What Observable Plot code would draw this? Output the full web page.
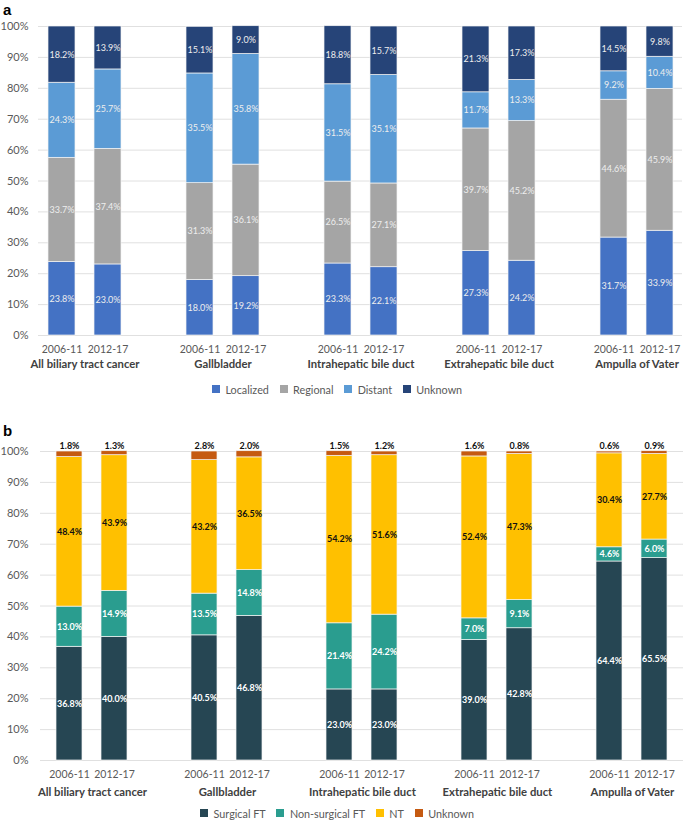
<!DOCTYPE html>
<html><head><meta charset="utf-8">
<script src="https://cdn.jsdelivr.net/npm/d3@7"></script>
<script src="https://cdn.jsdelivr.net/npm/@observablehq/plot@0.6"></script>
<style>
body{margin:0;background:#fff;font-family:Lato,"Open Sans",sans-serif;}
#root{position:relative;width:685px;height:824px;overflow:hidden;}
.panel-label{position:absolute;left:3px;font:bold 15px "Liberation Sans",Arial,sans-serif;color:#000;line-height:15px;}
.chart{position:absolute;left:0;}
.legend{position:absolute;left:0;width:685px;height:16px;display:flex;justify-content:center;align-items:center;}
</style></head><body><div id="root"></div>
<script>
// ---- data ----
const groups = ["All biliary tract cancer","Gallbladder","Intrahepatic bile duct","Extrahepatic bile duct","Ampulla of Vater"];
const periods = ["2006-11","2012-17"];
const yTicks = [0,10,20,30,40,50,60,70,80,90,100];

// panel a: stage
const stageCats = ["Localized","Regional","Distant","Unknown"];
const stageColors = ["#4472C4","#A5A5A5","#5B9BD5","#264478"];
const localized = [23.8,23.0,18.0,19.2,23.3,22.1,27.3,24.2,31.7,33.9];
const regional  = [33.7,37.4,31.3,36.1,26.5,27.1,39.7,45.2,44.6,45.9];
const distant   = [24.3,25.7,35.5,35.8,31.5,35.1,11.7,13.3,9.2,10.4];
const unknownA  = [18.2,13.9,15.1,9.0,18.8,15.7,21.3,17.3,14.5,9.8];

// panel b: treatment
const treatCats = ["Surgical FT","Non-surgical FT","NT","Unknown"];
const treatColors = ["#264653","#2A9D8F","#FFC000","#C55A11"];
const surgical    = [36.8,40.0,40.5,46.8,23.0,23.0,39.0,42.8,64.4,65.5];
const nonSurgical = [13.0,14.9,13.5,14.8,21.4,24.2,7.0,9.1,4.6,6.0];
const nt          = [48.4,43.9,43.2,36.5,54.2,51.6,52.4,47.3,30.4,27.7];
const unknownB    = [1.8,1.3,2.8,2.0,1.5,1.2,1.6,0.8,0.6,0.9];

// ---- helpers ----
const slotKey = (g,p) => g + "|" + p;
const slots = groups.flatMap((g,i) => {
  const s = periods.map(p => slotKey(g,p));
  return i < groups.length - 1 ? [...s, "gap" + i] : s;
});
const barSlots = groups.flatMap(g => periods.map(p => slotKey(g,p)));

function buildRows(cats, series) {
  const rows = [];
  cats.forEach((c, ci) => {
    series[ci].forEach((v, k) => {
      const g = groups[Math.floor(k/2)], p = periods[k%2];
      rows.push({cat: c, group: g, period: p, slot: slotKey(g,p), value: v});
    });
  });
  return rows;
}
const rowsA = buildRows(stageCats, [localized, regional, distant, unknownA]);
const rowsB = buildRows(treatCats, [surgical, nonSurgical, nt, unknownB]);

const W = 685;
const fmt = v => v.toFixed(1) + "%";

function chart({rows, cats, colors, height, marginTop, marginBottom, marginLeft, marginRight, groupDy, labelMarks}) {
  const step = (W - marginLeft - marginRight) / slots.length;
  return Plot.plot({
    width: W, height, marginTop, marginBottom, marginLeft, marginRight,
    style: {fontFamily: "Lato, 'Open Sans', sans-serif", fontSize: "11px", color: "#595959", background: "white", overflow: "visible"},
    x: {domain: slots, paddingInner: 0.42, paddingOuter: 0.21, axis: null},
    y: {domain: [0, 100], axis: null},
    color: {domain: cats, range: colors},
    marks: [
      Plot.ruleY(yTicks, {stroke: "#e0e0e0", strokeWidth: 1}),
      Plot.axisY({ticks: yTicks, tickFormat: d => d + "%", tickSize: 0, tickPadding: marginLeft - 28, fill: "#595959", fontSize: 11, label: null}),
      Plot.barY(rows, {x: "slot", y: "value", fill: "cat", stroke: "#f4f4f4", strokeWidth: 0.7}),
      Plot.axisX({ticks: barSlots, tickFormat: d => d.split("|")[1], tickSize: 0, tickPadding: 10, fill: "#595959", fontSize: 10.5, label: null}),
      Plot.text(groups, {x: g => slotKey(g, periods[0]), dx: step / 2, frameAnchor: "bottom", dy: groupDy, text: d => d, fontWeight: "bold", fontSize: 11.3, fill: "#404040"}),
      ...labelMarks
    ]
  });
}

const chartA = chart({
  rows: rowsA, cats: stageCats, colors: stageColors,
  height: 364, marginTop: 10, marginBottom: 45, marginLeft: 38, marginRight: 3, groupDy: 32,
  labelMarks: [
    Plot.text(rowsA, Plot.stackY({x: "slot", y: "value", text: d => fmt(d.value), fill: "#eeeeee", fontSize: 9}))
  ]
});

const labelFillB = {"Surgical FT": "white", "Non-surgical FT": "white", "NT": "#111", "Unknown": "#111"};
const chartB = chart({
  rows: rowsB, cats: treatCats, colors: treatColors,
  height: 374, marginTop: 15, marginBottom: 50, marginLeft: 40, marginRight: 2, groupDy: 35,
  labelMarks: [
    Plot.text(rowsB, Plot.stackY({x: "slot", y: "value", text: d => d.cat === "Unknown" ? null : fmt(d.value), fill: d => labelFillB[d.cat], fontSize: 9, fontWeight: "bold"})),
    Plot.text(rowsB, Plot.stackY2({x: "slot", y: "value", text: d => d.cat === "Unknown" ? fmt(d.value) : null, fill: "#111", fontSize: 9, fontWeight: "bold", dy: -5}))
  ]
});

function legend(cats, colors) {
  return Plot.legend({color: {domain: cats, range: colors}, legend: "swatches", swatchSize: 8,
    style: {fontFamily: "Lato, 'Open Sans', sans-serif", fontSize: "10.8px", color: "#595959"}});
}

const root = document.getElementById("root");
function place(el, top, cls) {
  const wrap = document.createElement("div");
  wrap.className = cls;
  wrap.style.top = top + "px";
  if (typeof el === "string") wrap.textContent = el; else wrap.appendChild(el);
  root.appendChild(wrap);
}
place("a", 2, "panel-label");
place(chartA, 16, "chart");
place(legend(stageCats, stageColors), 384, "legend");
place("b", 423, "panel-label");
place(chartB, 436, "chart");
place(legend(treatCats, treatColors), 808, "legend");
</script></body></html>
